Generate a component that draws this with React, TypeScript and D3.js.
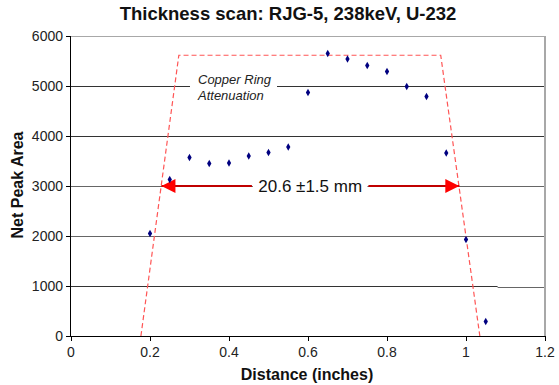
import React from "react";
import * as d3 from "d3";

const distances = [0.2, 0.25, 0.3, 0.35, 0.4, 0.45, 0.5, 0.55, 0.6, 0.65, 0.7, 0.75, 0.8, 0.85, 0.9, 0.95, 1.0, 1.05];
const peakAreas = [2050, 3130, 3570, 3450, 3460, 3600, 3670, 3780, 4870, 5650, 5540, 5410, 5290, 4990, 4790, 3660, 1930, 290];

const envelopeX = [0.177, 0.273, 0.936, 1.035];
const envelopeY = [0, 5615, 5615, 0];

const xTicks = [0, 0.2, 0.4, 0.6, 0.8, 1, 1.2];
const yTicks = [0, 1000, 2000, 3000, 4000, 5000, 6000];

const arrowY = 3000;
const arrowLeft = [0.229, 0.458];
const arrowRight = [0.753, 0.983];
const widthLabel = "20.6 \u00b11.5 mm";
const noteLines = ["Copper Ring", "Attenuation"];

const W = 559, H = 385;
const M = { left: 71, right: 14, top: 36, bottom: 49 };

export default function App() {
  const x = d3.scaleLinear().domain([0, 1.2]).range([M.left, W - M.right]);
  const y = d3.scaleLinear().domain([0, 6000]).range([H - M.bottom, M.top]);
  const font = "Arial, 'Liberation Sans', sans-serif";

  const env = d3.line<number>().x((d, i) => x(envelopeX[i])).y((d, i) => y(envelopeY[i]));
  const ay = y(arrowY);

  const lTip = x(arrowLeft[0]);
  const rTip = x(arrowRight[1]);
  const stepX = x(1.08);

  return (
    <svg width={W} height={H} style={{ position: "absolute", left: 0, top: 0, background: "#fff" }} fontFamily={font}>
      <rect x={0} y={0} width={W} height={H} fill="#fff" />
      {/* gridlines */}
      {yTicks.filter(t => t > 1000 && t < 6000).map(t => (
        <line key={t} x1={x(0)} x2={x(1.2)} y1={Math.round(y(t)) + 0.5} y2={Math.round(y(t)) + 0.5}
          stroke={t >= 4000 ? "#333" : "#666"} strokeWidth={1} />
      ))}
      <line x1={x(0)} x2={stepX} y1={Math.round(y(1000)) + 0.5} y2={Math.round(y(1000)) + 0.5} stroke="#333" />
      <line x1={stepX} x2={x(1.2)} y1={Math.round(y(1000)) + 1.5} y2={Math.round(y(1000)) + 1.5} stroke="#666" />
      {/* plot border top/right */}
      <line x1={x(0)} x2={x(1.2)} y1={y(6000) + 0.5} y2={y(6000) + 0.5} stroke="#a8a8a8" strokeWidth={1} />
      <line x1={x(1.2)} x2={x(1.2)} y1={y(6000)} y2={y(0)} stroke="#a8a8a8" strokeWidth={2} />
      {/* note with white background */}
      <rect x={190} y={69} width={87} height={35} fill="#fff" />
      <g fontStyle="italic" fontSize={13} fill="#222">
        {noteLines.map((s, i) => (
          <text key={i} x={198} y={84 + i * 15.5}>{s}</text>
        ))}
      </g>
      {/* envelope */}
      <path d={env(envelopeX) || ""} fill="none" stroke="#ff5555" strokeWidth={1.2} strokeDasharray="5,3" />
      {/* arrows */}
      <line x1={lTip} x2={x(arrowLeft[1])} y1={ay} y2={ay} stroke="#c00000" strokeWidth={2} />
      <path d={`M${lTip},${ay} L${lTip + 14},${ay - 7} L${lTip + 14},${ay + 7} Z`} fill="#ff0000" />
      <line x1={x(arrowRight[0])} x2={rTip} y1={ay} y2={ay} stroke="#c00000" strokeWidth={2} />
      <path d={`M${rTip},${ay} L${rTip - 14},${ay - 7} L${rTip - 14},${ay + 7} Z`} fill="#ff0000" />
      <rect x={x(arrowLeft[1]) + 1} y={ay - 10} width={x(arrowRight[0]) - x(arrowLeft[1]) - 2} height={20} fill="#fff" />
      <text x={(x(arrowLeft[1]) + x(arrowRight[0])) / 2} y={ay + 6} textAnchor="middle" fontSize={17} fill="#111">{widthLabel}</text>
      {/* points */}
      {distances.map((d, i) => (
        <path key={i} d={d3.symbol(d3.symbolDiamond, 16)() || ""} transform={`translate(${x(d)},${y(peakAreas[i])})`} fill="#000080" />
      ))}
      {/* axes */}
      <line x1={x(0) - 0.5} x2={x(0) - 0.5} y1={y(6000)} y2={y(0)} stroke="#000" strokeWidth={1} />
      <line x1={x(0) - 4} x2={x(1.2)} y1={y(0) + 0.5} y2={y(0) + 0.5} stroke="#000" strokeWidth={1} />
      {yTicks.map(t => (
        <g key={t}>
          <line x1={x(0) - 5} x2={x(0)} y1={Math.round(y(t)) + 0.5} y2={Math.round(y(t)) + 0.5} stroke="#000" />
          <text x={x(0) - 8} y={y(t) + 5} textAnchor="end" fontSize={14} fill="#222">{t}</text>
        </g>
      ))}
      {xTicks.map(t => (
        <g key={t}>
          <line x1={Math.round(x(t)) + 0.5} x2={Math.round(x(t)) + 0.5} y1={y(0)} y2={y(0) + 5} stroke="#000" />
          <text x={x(t)} y={y(0) + 21} textAnchor="middle" fontSize={14} fill="#222">{t}</text>
        </g>
      ))}
      {/* titles */}
      <text x={288} y={20} textAnchor="middle" fontSize={18.5} fontWeight="bold" fill="#111">Thickness scan: RJG-5, 238keV, U-232</text>
      <text x={307} y={380} textAnchor="middle" fontSize={16} fontWeight="bold" fill="#111">Distance (inches)</text>
      <text transform={`translate(23,185) rotate(-90)`} textAnchor="middle" fontSize={16} fontWeight="bold" fill="#111">Net Peak Area</text>
    </svg>
  );
}
